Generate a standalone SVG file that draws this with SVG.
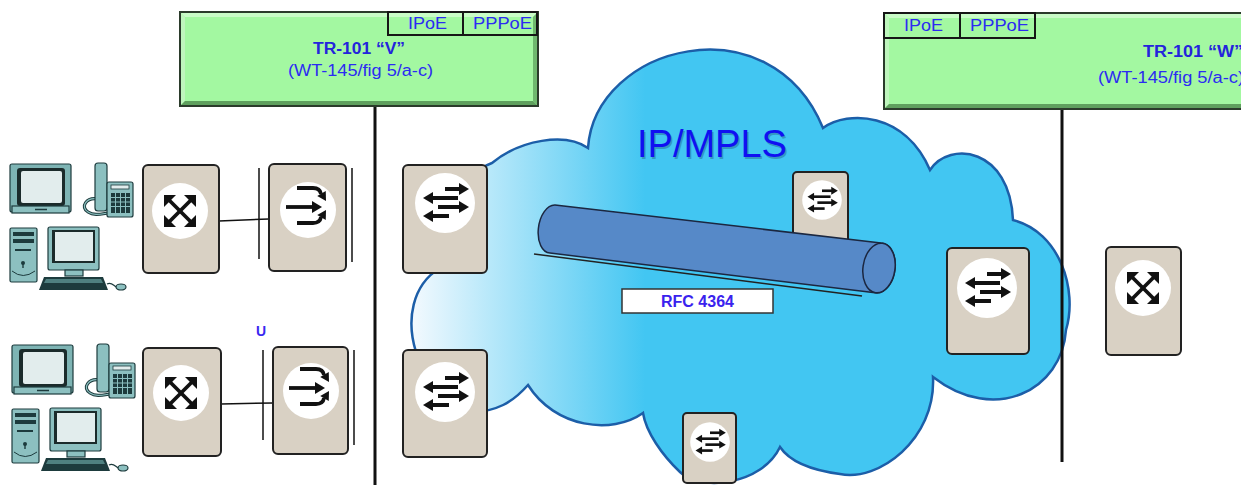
<svg xmlns="http://www.w3.org/2000/svg" xmlns:xlink="http://www.w3.org/1999/xlink" width="1241" height="485" viewBox="0 0 1241 485">
  <style>
    .lbl { font-family: "Liberation Sans", Arial, sans-serif; fill: #2b2bf2; }
    .bold { font-weight: bold; }
    .box { fill: #d9d1c4; stroke: #222; stroke-width: 2; }
    .tab { fill: none; stroke: #161616; stroke-width: 2; }
    .wire { stroke: #111; fill: none; }
    .dev { stroke: #1d3b3d; stroke-width: 1.2; }
  </style>
  <defs>
    <linearGradient id="cloudFill" gradientUnits="userSpaceOnUse" x1="413" y1="0" x2="645" y2="0">
      <stop offset="0" stop-color="#f2f9fe"/>
      <stop offset="1" stop-color="#42c6f2"/>
    </linearGradient>
    <!-- aggregation switch glyph: four outward arrows -->
    <g id="ico-x">
      <circle r="28" fill="#fff"/>
      <g stroke="#111" stroke-width="3.8">
        <line x1="-11" y1="-11" x2="11" y2="11"/>
        <line x1="11" y1="-11" x2="-11" y2="11"/>
      </g>
      <g fill="#111">
        <polygon points="16,16 4,16 16,4"/>
        <polygon points="-16,16 -4,16 -16,4"/>
        <polygon points="16,-16 4,-16 16,-4"/>
        <polygon points="-16,-16 -4,-16 -16,-4"/>
      </g>
    </g>
    <!-- router glyph: opposing arrows -->
    <g id="ico-rt">
      <circle r="30" fill="#fff"/>
      <g stroke="#111" stroke-width="4">
        <line x1="0" y1="-14" x2="16" y2="-14"/>
        <line x1="-13" y1="-5" x2="13" y2="-5"/>
        <line x1="-7" y1="4" x2="16" y2="4"/>
        <line x1="-13" y1="13" x2="4" y2="13"/>
      </g>
      <g fill="#111">
        <polygon points="24,-14 14,-20 14,-8"/>
        <polygon points="-22,-5 -12,-11 -12,1"/>
        <polygon points="24,4 14,-2 14,10"/>
        <polygon points="-22,13 -12,7 -12,19"/>
      </g>
    </g>
    <!-- access node glyph: split arrows -->
    <g id="ico-mux">
      <circle r="28" fill="#fff"/>
      <g stroke="#111" stroke-width="3.8" fill="none">
        <line x1="-22" y1="-3" x2="5" y2="-3"/>
        <path d="M-11,-22 H5 Q12,-22 13,-16"/>
        <path d="M-11,13 H5 Q12,13 13,7"/>
      </g>
      <g fill="#111">
        <polygon points="14,-3 4,-9 4,3"/>
        <polygon points="18,-9 17.75,-19.1 9.25,-14.1"/>
        <polygon points="18,0 17.75,10.1 9.25,5.1"/>
      </g>
    </g>
    <!-- subscriber premises equipment: TV, phone, PC -->
    <g id="cpe">
      <rect class="dev" x="10" y="164" width="61" height="48" rx="2" fill="#7eb4b4"/>
      <rect x="17" y="168" width="48" height="38" rx="3" fill="#1b2b2b"/>
      <rect x="21" y="171" width="41" height="32" rx="2" fill="#e2eded"/>
      <rect class="dev" x="12" y="206" width="57" height="7" fill="#8cc0c0"/>
      <line x1="35" y1="209.5" x2="47" y2="209.5" stroke="#1d3b3d" stroke-width="1.5"/>
      <path d="M98,199 C86,197 80,207 88,212 C94,216 101,214 108,213" fill="none" stroke="#1d3b3d" stroke-width="3.2"/>
      <path d="M98,199 C86,197 80,207 88,212 C94,216 101,214 108,213" fill="none" stroke="#8cc0c0" stroke-width="1.2"/>
      <rect class="dev" x="95" y="163" width="12" height="48" rx="3" fill="#8cc0c0"/>
      <rect class="dev" x="107" y="182" width="26" height="35" rx="2" fill="#8cc0c0"/>
      <rect x="111" y="185" width="18" height="4" fill="#e2eded" stroke="#1d3b3d" stroke-width="0.8"/>
      <rect x="111" y="193" width="19" height="20" fill="#1d3b3d"/>
      <g stroke="#8cc0c0" stroke-width="1">
        <line x1="111" y1="197.5" x2="130" y2="197.5"/>
        <line x1="111" y1="202" x2="130" y2="202"/>
        <line x1="111" y1="206.5" x2="130" y2="206.5"/>
        <line x1="115.5" y1="193" x2="115.5" y2="213"/>
        <line x1="120.5" y1="193" x2="120.5" y2="213"/>
        <line x1="125.5" y1="193" x2="125.5" y2="213"/>
      </g>
      <rect class="dev" x="10" y="228" width="27" height="54" rx="1.5" fill="#8cc0c0"/>
      <rect x="13" y="232" width="21" height="4" fill="#1d3b3d"/>
      <rect x="13" y="239" width="21" height="4" fill="#1d3b3d"/>
      <line x1="15" y1="250" x2="31" y2="250" stroke="#1d3b3d" stroke-width="2"/>
      <circle cx="23" cy="263" r="2" fill="#1d3b3d"/>
      <line x1="23" y1="263" x2="23" y2="268" stroke="#1d3b3d" stroke-width="1.4"/>
      <path d="M12,271 Q23,280 35,271" fill="none" stroke="#1d3b3d" stroke-width="1"/>
      <rect class="dev" x="48" y="227" width="51" height="43" rx="2" fill="#8cc0c0"/>
      <rect x="52" y="230" width="43" height="33" fill="#1b2b2b"/>
      <rect x="55" y="232" width="38" height="29" fill="#e2eded"/>
      <rect class="dev" x="65" y="270" width="18" height="6" fill="#8cc0c0"/>
      <polygon points="44,277 103,277 108,290 39,290" fill="#1d3b3d"/>
      <polygon points="46,279 101,279 103,283 44,283" fill="#4f8080"/>
      <path d="M107,284 C112,281 114,287 117,287" fill="none" stroke="#1d3b3d" stroke-width="1.2"/>
      <ellipse class="dev" cx="121" cy="287" rx="5" ry="3" fill="#8cc0c0"/>
    </g>
  </defs>

  <rect width="1241" height="485" fill="#fff"/>

  <!-- IP/MPLS core cloud -->
  <g id="ipmpls-cloud">
    <path d="M416,352 C406,320 412,285 440,268 C440,215 460,175 492,163 C520,140 565,132 588,148 C595,45 770,0 823,128 C848,110 905,112 930,170 C950,140 1010,148 1013,220 C1060,232 1078,290 1066,330 C1062,390 995,425 933,377 C936,440 878,482 840,474 C810,470 790,462 780,447 C762,485 700,492 680,472 C662,455 646,432 643,413 C612,435 555,428 528,385 C512,403 497,411 470,413 C440,412 420,390 416,352 Z" fill="url(#cloudFill)" stroke="#1c5ea8" stroke-width="2.5"/>
    <text class="lbl" x="638.5" y="158.5" font-size="38" opacity="0.3" style="fill:#12305a">IP/MPLS</text>
    <text class="lbl" x="637" y="157" font-size="38" style="fill:#1010f2">IP/MPLS</text>
  </g>

  <!-- links and reference-point lines -->
  <g id="connectors">
    <line class="wire" x1="375" y1="106" x2="375" y2="485" stroke-width="3"/>
    <line class="wire" x1="1062" y1="109" x2="1062" y2="462" stroke-width="3"/>
    <line class="wire" x1="219" y1="221" x2="269" y2="219" stroke-width="1.5"/>
    <line class="wire" x1="221" y1="404" x2="273" y2="403" stroke-width="1.5"/>
    <line class="wire" x1="259" y1="168" x2="259" y2="259" stroke-width="1.5"/>
    <line class="wire" x1="352" y1="168" x2="352" y2="262" stroke-width="1.5"/>
    <line class="wire" x1="263" y1="350" x2="263" y2="440" stroke-width="1.5"/>
    <line class="wire" x1="354" y1="350" x2="354" y2="445" stroke-width="1.5"/>
  </g>

  <!-- TR-101 V reference box -->
  <g id="tr101-v">
    <rect x="180" y="12" width="358" height="94" fill="#a3f8a1" stroke="#2b3b2b" stroke-width="2"/>
    <polygon points="181,13 537,13 533,17 185,17" fill="#c9fcc7"/>
    <polygon points="181,13 185,17 185,101 181,105" fill="#bff6bd"/>
    <polygon points="537,13 537,105 533,101 533,17" fill="#6fb86e"/>
    <polygon points="181,105 537,105 533,101 185,101" fill="#5fa05e"/>
    <rect class="tab" x="388" y="12" width="75" height="23"/>
    <rect class="tab" x="463" y="12" width="74" height="23"/>
    <text class="lbl" x="408" y="29" font-size="16" textLength="39" lengthAdjust="spacingAndGlyphs">IPoE</text>
    <text class="lbl" x="473" y="29" font-size="16" textLength="59" lengthAdjust="spacingAndGlyphs">PPPoE</text>
    <text class="lbl bold" x="313" y="54" font-size="16" textLength="92" lengthAdjust="spacingAndGlyphs" style="fill:#2424dc">TR-101 “V”</text>
    <text class="lbl" x="288" y="76" font-size="16" textLength="145" lengthAdjust="spacingAndGlyphs">(WT-145/fig 5/a-c)</text>
  </g>

  <!-- TR-101 W reference box -->
  <g id="tr101-w">
    <rect x="884" y="13" width="366" height="96" fill="#a3f8a1" stroke="#2b3b2b" stroke-width="2"/>
    <polygon points="885,14 1250,14 1250,18 889,18" fill="#c9fcc7"/>
    <polygon points="885,14 889,18 889,104 885,108" fill="#bff6bd"/>
    <polygon points="885,108 1250,108 1250,104 889,104" fill="#5fa05e"/>
    <rect class="tab" x="884" y="13" width="76" height="25"/>
    <rect class="tab" x="960" y="13" width="75" height="25"/>
    <text class="lbl" x="904" y="31" font-size="16" textLength="39" lengthAdjust="spacingAndGlyphs">IPoE</text>
    <text class="lbl" x="970" y="31" font-size="16" textLength="59" lengthAdjust="spacingAndGlyphs">PPPoE</text>
    <text class="lbl bold" x="1143" y="57" font-size="16" textLength="100" lengthAdjust="spacingAndGlyphs" style="fill:#2424dc">TR-101 “W”</text>
    <text class="lbl" x="1098" y="83" font-size="16" textLength="146" lengthAdjust="spacingAndGlyphs">(WT-145/fig 5/a-c)</text>
  </g>

  <!-- subscriber premises -->
  <g id="cpe-1"><use href="#cpe" xlink:href="#cpe"/></g>
  <g id="cpe-2"><use href="#cpe" xlink:href="#cpe" transform="translate(2,181)"/></g>

  <!-- residential gateways -->
  <g id="rg-1">
    <rect class="box" x="143" y="165" width="76" height="108" rx="5"/>
    <use href="#ico-x" xlink:href="#ico-x" transform="translate(180,211)"/>
  </g>
  <g id="rg-2">
    <rect class="box" x="143" y="348" width="78" height="108" rx="5"/>
    <use href="#ico-x" xlink:href="#ico-x" transform="translate(181,393)"/>
  </g>

  <!-- access nodes -->
  <g id="an-1">
    <rect class="box" x="269" y="164" width="77" height="107" rx="5"/>
    <use href="#ico-mux" xlink:href="#ico-mux" transform="translate(308,210)"/>
  </g>
  <g id="an-2">
    <rect class="box" x="273" y="347" width="75" height="107" rx="5"/>
    <use href="#ico-mux" xlink:href="#ico-mux" transform="translate(311,391)"/>
  </g>
  <text class="lbl bold" x="256" y="336" font-size="14" style="fill:#3a28f0">U</text>

  <!-- PE / P routers -->
  <g id="pe-1">
    <rect class="box" x="403" y="165" width="84" height="108" rx="5"/>
    <use href="#ico-rt" xlink:href="#ico-rt" transform="translate(445,203)"/>
  </g>
  <g id="pe-2">
    <rect class="box" x="403" y="350" width="84" height="107" rx="5"/>
    <use href="#ico-rt" xlink:href="#ico-rt" transform="translate(445,392)"/>
  </g>
  <g id="p-1">
    <rect class="box" x="793" y="172" width="55" height="75" rx="4"/>
    <use href="#ico-rt" xlink:href="#ico-rt" transform="translate(822,200) scale(0.66)"/>
  </g>
  <g id="p-2">
    <rect class="box" x="683" y="413" width="53" height="70" rx="4"/>
    <use href="#ico-rt" xlink:href="#ico-rt" transform="translate(710,442) scale(0.66)"/>
  </g>
  <g id="pe-3">
    <rect class="box" x="947" y="248" width="82" height="106" rx="5"/>
    <use href="#ico-rt" xlink:href="#ico-rt" transform="translate(987,288)"/>
  </g>

  <!-- far-side switch -->
  <g id="sw-w">
    <rect class="box" x="1106" y="247" width="75" height="108" rx="5"/>
    <use href="#ico-x" xlink:href="#ico-x" transform="translate(1143,288)"/>
  </g>

  <!-- pseudowire tunnel -->
  <g id="tunnel">
    <line x1="534" y1="254" x2="862" y2="296" stroke="#222" stroke-width="1.5"/>
    <path d="M555,205 L881,243 A16 25 8 0 1 877,293 L550,253 A14 24 8 0 1 555,205 Z" fill="#5689c8" stroke="#1b2740" stroke-width="1.5"/>
    <ellipse cx="879" cy="268" rx="16" ry="25" transform="rotate(8 879 268)" fill="#5689c8" stroke="#1b2740" stroke-width="1.5"/>
  </g>

  <g id="rfc-label">
    <rect x="622" y="289" width="151" height="24" fill="#fff" stroke="#333" stroke-width="1.5"/>
    <text class="lbl bold" x="697.5" y="307" font-size="16" text-anchor="middle" style="fill:#3a22ee">RFC 4364</text>
  </g>
</svg>
